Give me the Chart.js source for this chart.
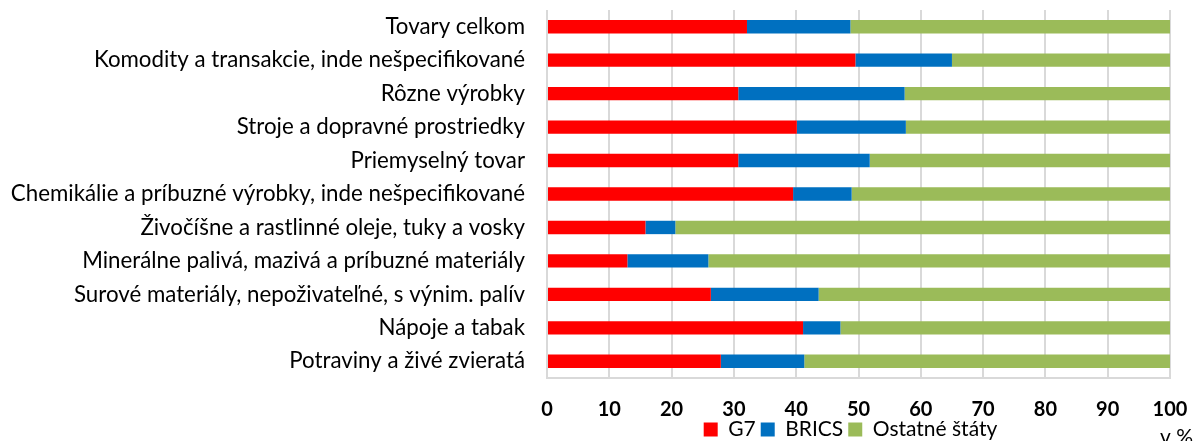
<!DOCTYPE html>
<html>
<head>
<meta charset="utf-8">
<script src="https://cdn.jsdelivr.net/npm/chart.js@4/dist/chart.umd.min.js"></script>
<style>
  html, body { margin: 0; padding: 0; background: #fff; }
  #wrap { width: 1198px; height: 441px; position: relative; }
</style>
</head>
<body>
<div id="wrap"><canvas id="chart"></canvas></div>
<script>
// kategórie (zhora nadol)
const categories = [
  'Tovary celkom',
  'Komodity a transakcie, inde nešpecifikované',
  'Rôzne výrobky',
  'Stroje a dopravné prostriedky',
  'Priemyselný tovar',
  'Chemikálie a príbuzné výrobky, inde nešpecifikované',
  'Živočíšne a rastlinné oleje, tuky a vosky',
  'Minerálne palivá, mazivá a príbuzné materiály',
  'Surové materiály, nepoživateľné, s výnim. palív',
  'Nápoje a tabak',
  'Potraviny a živé zvieratá'
];
const g7     = [32.1, 49.5, 30.7, 40.1, 30.7, 39.5, 15.8, 12.9, 26.3, 41.1, 27.9];
const brics  = [16.6, 15.5, 26.7, 17.5, 21.1,  9.4,  4.8, 13.0, 17.3,  6.0, 13.4];
const ostatne = [51.3, 35.0, 42.6, 42.4, 48.2, 51.1, 79.4, 74.1, 56.4, 52.9, 58.7];
const xTicks = [0, 10, 20, 30, 40, 50, 60, 70, 80, 90, 100];

const FONT = "Lato, 'Open Sans', sans-serif";

// posun legendy (prekrýva sa so spodkom osi ako v predlohe)
const legendShift = {
  id: 'legendShift',
  afterLayout(chart) {
    const lg = chart.legend;
    if (!lg) return;
    lg.top -= 8; lg.bottom -= 8;
    lg.left -= 8; lg.right -= 8;
  }
};

// popis "v %" vpravo dole (je orezaný spodným okrajom ako v predlohe)
const unitLabel = {
  id: 'unitLabel',
  afterDraw(chart) {
    const ctx = chart.ctx;
    ctx.save();
    ctx.font = '21px ' + FONT;
    ctx.fillStyle = '#000';
    ctx.textAlign = 'left';
    ctx.textBaseline = 'alphabetic';
    ctx.fillText('v %', 1160, 444);
    ctx.restore();
  }
};

new Chart(document.getElementById('chart'), {
  type: 'bar',
  data: {
    labels: categories,
    datasets: [
      { label: 'G7', data: g7, backgroundColor: '#ff0000' },
      { label: 'BRICS', data: brics, backgroundColor: '#0070c0' },
      { label: 'Ostatné štáty', data: ostatne, backgroundColor: '#9bbb59' }
    ]
  },
  options: {
    indexAxis: 'y',
    responsive: true,
    maintainAspectRatio: false,
    animation: false,
    layout: { padding: { top: 10, right: 28, left: 0, bottom: -17 } },
    datasets: { bar: { barPercentage: 0.8, categoryPercentage: 0.5 } },
    scales: {
      x: {
        stacked: true,
        min: 0,
        max: 100,
        afterBuildTicks: s => { s.ticks = xTicks.map(v => ({ value: v })); },
        afterFit: s => { s.height = 44; s.paddingLeft = 0; s.paddingRight = 0; },
        grid: { color: '#d9d9d9', lineWidth: 2, drawTicks: false },
        border: { color: '#d9d9d9', width: 2 },
        ticks: { padding: 20, color: '#000', font: { family: FONT, size: 20, weight: 'bold' } }
      },
      y: {
        stacked: true,
        afterFit: s => { s.width = 547; s.paddingTop = 0; s.paddingBottom = 0; },
        grid: { display: false, drawTicks: false },
        border: { display: false },
        ticks: { padding: 22, color: '#000', font: { family: FONT, size: 22.3 } }
      }
    },
    plugins: {
      legend: {
        position: 'bottom',
        fullSize: false,
        labels: {
          boxWidth: 14, boxHeight: 14, padding: 5,
          color: '#000', font: { family: FONT, size: 21 }
        }
      },
      tooltip: { enabled: false }
    }
  },
  plugins: [legendShift, unitLabel]
});
</script>
</body>
</html>
